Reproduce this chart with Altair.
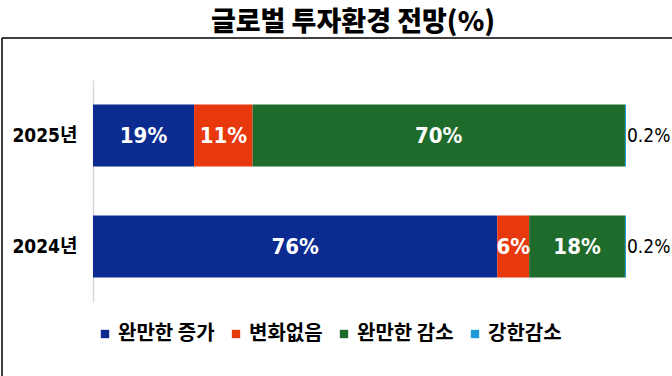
import altair as alt
import pandas as pd

years = ["2025년", "2024년"]
categories = ["완만한 증가", "변화없음", "완만한 감소", "강한감소"]
v2025 = [19, 11, 70, 0.2]
v2024 = [76, 6, 18, 0.2]
colors = ["#0c2b91", "#e8380e", "#1e6b2b", "#1e9bd7"]

rows = []
for y, vals in zip(years, [v2025, v2024]):
    for i, (c, v) in enumerate(zip(categories, vals)):
        rows.append({"year": y, "cat": c, "value": v, "order": i})
df = pd.DataFrame(rows)

FONT = "DejaVu Sans Condensed, Noto Sans CJK KR"
KFONT = "Noto Sans CJK KR"

base = alt.Chart(df).transform_stack(
    stack="value", groupby=["year"], as_=["start", "end"],
    sort=[alt.SortField("order", order="ascending")]
).transform_calculate(
    mid="(datum.start + datum.end) / 2",
    label="datum.value + '%'"
)

yenc = alt.Y("year:N", sort=years,
             scale=alt.Scale(paddingInner=0.44, paddingOuter=0.22),
             axis=alt.Axis(title=None, ticks=False, labelFontSize=19,
                           labelFontWeight="bold", labelFont=FONT,
                           labelColor="black", labelPadding=16,
                           domainColor="#d9d9d9", domainWidth=1.5))
xscale = alt.Scale(domain=[0, 100.2], nice=False, zero=True)

bars = base.mark_bar().encode(
    y=yenc,
    x=alt.X("start:Q", scale=xscale, axis=None),
    x2="end:Q",
    color=alt.Color("cat:N", sort=categories,
                    scale=alt.Scale(domain=categories, range=colors),
                    legend=alt.Legend(title=None, orient="none",
                                      legendX=2, legendY=244,
                                      direction="horizontal", columns=4,
                                      symbolType="square", symbolSize=70,
                                      symbolStrokeWidth=0,
                                      labelFontSize=20, labelFontWeight="bold",
                                      labelFont=KFONT, labelColor="black",
                                      labelOffset=3, columnPadding=11)),
)

inside = base.transform_filter("datum.value >= 1").mark_text(
    color="white", fontSize=22, fontWeight="bold", font=FONT
).encode(
    y=alt.Y("year:N", sort=years),
    x=alt.X("mid:Q", scale=xscale),
    text="label:N",
)

outside = base.transform_filter("datum.value < 1").mark_text(
    color="black", fontSize=19, font=FONT, align="left", dx=1
).encode(
    y=alt.Y("year:N", sort=years),
    x=alt.X("end:Q", scale=xscale),
    text="label:N",
)

one = pd.DataFrame({"a": [0]})
title = alt.Chart(one).mark_text(
    text="글로벌 투자환경 전망(%)", fontSize=27, fontWeight=900, font=KFONT,
    align="center", baseline="middle", color="black"
).encode(x=alt.value(260), y=alt.value(-57))

top_line = alt.Chart(one).mark_rule(color="black", strokeWidth=1.5).encode(
    x=alt.value(-91), x2=alt.value(579), y=alt.value(-42))
left_line = alt.Chart(one).mark_rule(color="black", strokeWidth=1.5).encode(
    x=alt.value(-91), y=alt.value(-42), y2=alt.value(296))

chart = alt.layer(bars, inside, outside, title, top_line, left_line).properties(
    width=533, height=222,
    autosize=alt.AutoSizeParams(type="none"),
    padding={"left": 93, "top": 80, "right": 46, "bottom": 74},
    background="white",
).configure_view(stroke=None)

chart.save("out.html", embed_options={"renderer": "svg", "actions": False})
